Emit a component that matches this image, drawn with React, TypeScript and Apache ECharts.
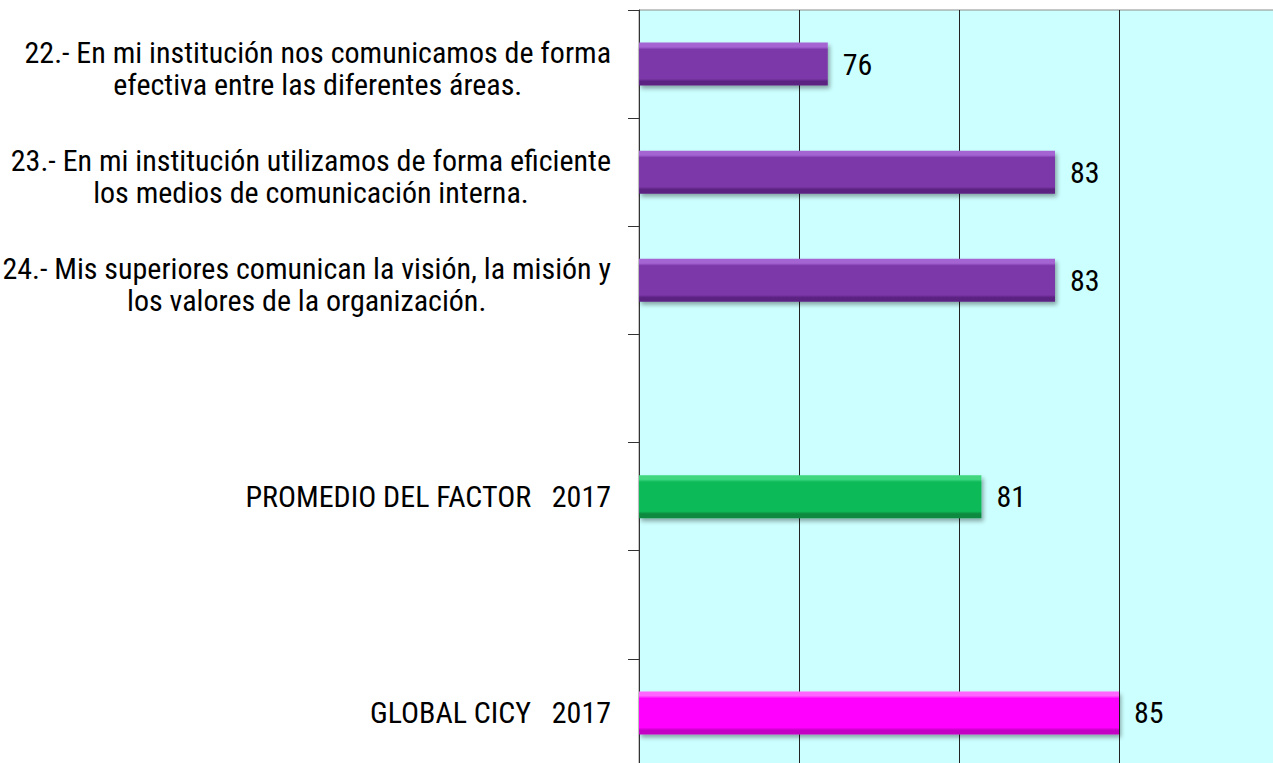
import React, { useEffect, useRef } from "react";
import * as echarts from "echarts";

const categories = [
  "22.- En mi institución nos comunicamos de forma\nefectiva entre las diferentes áreas.",
  "23.- En mi institución utilizamos de forma eficiente\nlos medios de comunicación interna.",
  "24.- Mis superiores comunican la visión, la misión y\nlos valores de la organización.",
  " ",
  "PROMEDIO DEL FACTOR   2017",
  "  ",
  "GLOBAL CICY   2017",
];
const values: (number | string)[] = [75.9, 83, 83, "-", 80.7, "-", 85];
const barKinds = ["item", "item", "item", "", "factor", "", "global"];

const FONT = '"Roboto Condensed", "DejaVu Sans Condensed", sans-serif';

const grad = (light: string, mid: string, dark: string) =>
  new echarts.graphic.LinearGradient(0, 0, 0, 1, [
    { offset: 0, color: light },
    { offset: 0.1, color: light },
    { offset: 0.16, color: mid },
    { offset: 0.84, color: mid },
    { offset: 0.9, color: dark },
    { offset: 1, color: dark },
  ]);

const palette: Record<string, () => any> = {
  item: () => grad("#A465D3", "#7B37A8", "#5B2482"),
  factor: () => grad("#3FD77F", "#0CBA58", "#078A40"),
  global: () => grad("#FF66FF", "#FF00FF", "#C400C4"),
};

const txt = { fontFamily: FONT, fontSize: 30, lineHeight: 32, color: "#000", align: "center" };

export default function App() {
  const ref = useRef<HTMLDivElement>(null);
  useEffect(() => {
    if (!ref.current) return;
    const chart = echarts.init(ref.current, undefined, { renderer: "svg" });
    const data = values.map((v, i) =>
      v === "-"
        ? "-"
        : {
            value: v,
            itemStyle: {
              color: palette[barKinds[i]](),
              shadowColor: "rgba(0,0,0,0.35)",
              shadowBlur: 4,
              shadowOffsetX: 2,
              shadowOffsetY: 3,
            },
          }
    );
    chart.setOption({
      animation: false,
      backgroundColor: "#ffffff",
      grid: {
        left: 639,
        top: 10,
        right: 21,
        bottom: 13,
        show: true,
        backgroundColor: "#CCFFFF",
        borderColor: "#8c8c8c",
        borderWidth: 1,
        containLabel: false,
        outerBoundsMode: "none",
      },
      xAxis: {
        type: "value",
        min: 70,
        max: 90,
        interval: 5,
        axisLabel: { show: false },
        axisLine: { show: false },
        axisTick: { show: false },
        splitLine: { show: true, lineStyle: { color: "#222", width: 1 } },
      },
      yAxis: {
        type: "category",
        inverse: true,
        data: categories,
        axisLine: { show: true, lineStyle: { color: "#333", width: 1 } },
        axisTick: { show: true, length: 11, lineStyle: { color: "#333" } },
        axisLabel: {
          margin: 28,
          align: "right",
          color: "#000",
          fontFamily: FONT,
          fontSize: 30,
          formatter: (v: string) => {
            const lines = v.split("\n").filter((l) => l.trim());
            if (lines.length === 0) return "";
            if (lines.length === 1) return `{c|${lines[0]}}`;
            return `{s| }\n{c|${lines[0]}}\n{c|${lines[1]}}`;
          },
          rich: {
            s: { fontSize: 2, lineHeight: 9, color: "#000", align: "center" },
            c: { ...txt },
          },
        },
      },
      series: [
        {
          type: "bar",
          data,
          barWidth: 43,
          label: {
            show: true,
            position: "right",
            distance: 15,
            color: "#000",
            fontFamily: FONT,
            fontSize: 30,
            formatter: (p: any) => String(Math.round(p.value)),
          },
        },
      ],
    });
    return () => chart.dispose();
  }, []);
  return (
    <div
      style={{
        position: "fixed",
        left: 0,
        top: 0,
        width: 1273,
        height: 763,
        overflow: "hidden",
        background: "#fff",
      }}
    >
      <div ref={ref} style={{ width: 1300, height: 780 }} />
    </div>
  );
}
